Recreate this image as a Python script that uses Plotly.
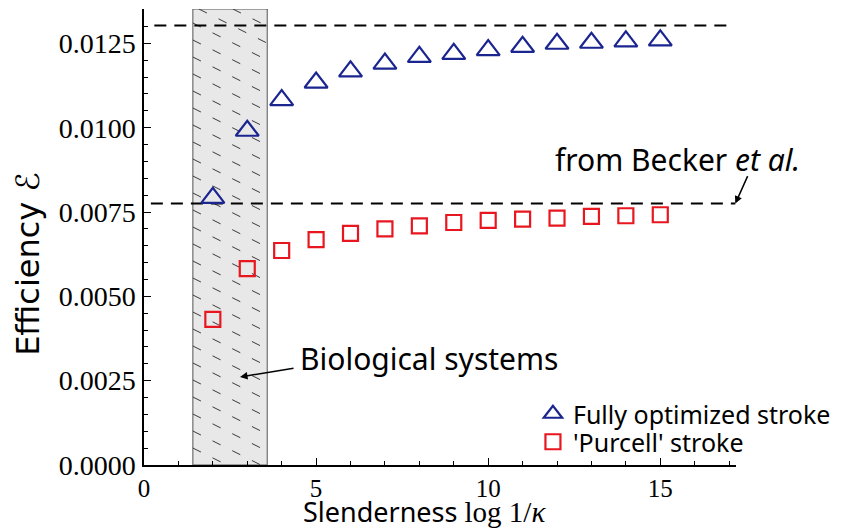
import plotly.graph_objects as go

# ---- data ----
slenderness = [2, 3, 4, 5, 6, 7, 8, 9, 10, 11, 12, 13, 14, 15]
eff_optimized = [0.00792, 0.00991, 0.01082, 0.01134, 0.01167, 0.01190, 0.01210,
                 0.01219, 0.01230, 0.01240, 0.01249, 0.01252, 0.01256, 0.01259]
eff_purcell = [0.00432, 0.00582, 0.00636, 0.00668, 0.00687, 0.00700, 0.00709,
               0.00719, 0.00725, 0.00729, 0.00732, 0.00737, 0.00739, 0.00742]
upper_level = 0.01303          # upper dashed bound
becker_level = 0.00775         # "from Becker et al."
bio_range = [1.42, 3.58]       # biological systems band
y_ticks = [0.0, 0.0025, 0.0050, 0.0075, 0.0100, 0.0125]
x_ticks = [0, 5, 10, 15]

X_MAX = 17.2
Y_MAX = 0.01352

SANS = "Noto Sans"
SERIF = "Liberation Serif"

fig = go.Figure()
fig.add_trace(go.Scatter(
    x=slenderness, y=eff_optimized, mode="markers", name="Fully optimized stroke",
    legend="legend",
    marker=dict(symbol="triangle-up-open", size=20, color="#1b2590",
                line=dict(width=2.2, color="#1b2590")),
))
fig.add_trace(go.Scatter(
    x=slenderness, y=eff_purcell, mode="markers", name="'Purcell' stroke",
    legend="legend2",
    marker=dict(symbol="square-open", size=15, color="#e8171f",
                line=dict(width=2.2, color="#e8171f")),
))

shapes = []
# shaded band
shapes.append(dict(type="rect", xref="x", yref="y", x0=bio_range[0], x1=bio_range[1],
                   y0=0, y1=Y_MAX, fillcolor="#e8e8e8",
                   line=dict(color="#555555", width=1), layer="below"))
# dashed hatching inside the band (descending to the right)
px_per_x = 592 / X_MAX
px_per_y = 456 / Y_MAX
slope = -0.5 * px_per_x / px_per_y      # data units of y per unit x
spacing = 17 / px_per_y
x0b, x1b = bio_range
c = 0.0
while c < Y_MAX - slope * (x1b - x0b) + spacing:
    xa, xb = x0b, x1b
    ya, yb = c, c + slope * (x1b - x0b)
    if ya > Y_MAX:
        xa = x0b + (Y_MAX - c) / slope
        ya = Y_MAX
    if yb < 0:
        xb = x0b + (0 - c) / slope
        yb = 0
    if xb > xa:
        shapes.append(dict(type="line", xref="x", yref="y", x0=xa, x1=xb, y0=ya, y1=yb,
                           line=dict(color="#3a3a3a", width=1, dash="9px,13px"),
                           layer="below"))
    c += spacing

# dashed horizontal reference lines
shapes.append(dict(type="line", xref="x", yref="y", x0=0.3, x1=17.0,
                   y0=upper_level, y1=upper_level,
                   line=dict(color="black", width=2, dash="12px,8px"), layer="below"))
shapes.append(dict(type="line", xref="x", yref="y", x0=0.2, x1=17.18,
                   y0=becker_level, y1=becker_level,
                   line=dict(color="black", width=2, dash="12px,8px"), layer="below"))

annotations = [
    dict(x=15.5, y=0.00905, xref="x", yref="y", text="from Becker <i>et al.</i>",
         showarrow=False, font=dict(family=SANS, size=30, color="black")),
    dict(x=17.18, y=becker_level, xref="x", yref="y", text="", showarrow=True,
         ax=13, ay=-29, arrowhead=2, arrowsize=1, arrowwidth=1.5, arrowcolor="black"),
    dict(x=8.28, y=0.00317, xref="x", yref="y", text="Biological systems",
         showarrow=False, font=dict(family=SANS, size=30, color="black")),
    dict(x=2.79, y=0.00261, xref="x", yref="y", text="", showarrow=True,
         ax=55, ay=-9, arrowhead=2, arrowsize=1, arrowwidth=1.5, arrowcolor="black"),
    dict(x=0.473, y=-0.103, xref="paper", yref="paper",
         text="Slenderness <span style='font-family:Liberation Serif;font-size:29px'>"
              "log 1/<i>κ</i></span>",
         showarrow=False, font=dict(family=SANS, size=27, color="black"),
         xanchor="center", yanchor="middle"),
    dict(x=-0.196, y=0.441, xref="paper", yref="paper", text="Efficiency <i>ℰ</i>",
         textangle=-90, showarrow=False,
         font=dict(family="DejaVu Sans", size=32, color="black"),
         xanchor="center", yanchor="middle"),
]

legend_common = dict(xanchor="left", yanchor="middle",
                     font=dict(family=SANS, size=25, color="black"),
                     bgcolor="rgba(0,0,0,0)")

fig.update_layout(
    width=837, height=521,
    margin=dict(l=136, r=109, t=1, b=64),
    paper_bgcolor="white", plot_bgcolor="white",
    shapes=shapes, annotations=annotations,
    showlegend=True,
    legend=dict(x=0.657, y=0.1118, **legend_common),
    legend2=dict(x=0.657, y=0.0504, **legend_common),
    xaxis=dict(range=[0, X_MAX], tickvals=x_ticks, ticks="inside", ticklen=7,
               tickwidth=1, tickcolor="black", showline=True, linecolor="black",
               linewidth=1.5, showgrid=False, zeroline=False,
               tickfont=dict(family=SERIF, size=25, color="black"),
               ticklabelstandoff=0,
               minor=dict(dtick=1, ticks="inside", ticklen=4, tickcolor="black",
                          showgrid=False)),
    yaxis=dict(range=[0, Y_MAX], tickvals=y_ticks, tickformat=".4f", ticks="inside",
               ticklen=7, tickwidth=1, tickcolor="black", showline=True,
               linecolor="black", linewidth=1.5, showgrid=False, zeroline=False,
               tickfont=dict(family=SERIF, size=28, color="black"),
               ticklabelstandoff=1,
               minor=dict(dtick=0.0005, tick0=0, ticks="inside", ticklen=4,
                          tickcolor="black", showgrid=False)),
)

fig.write_html("out.html")
